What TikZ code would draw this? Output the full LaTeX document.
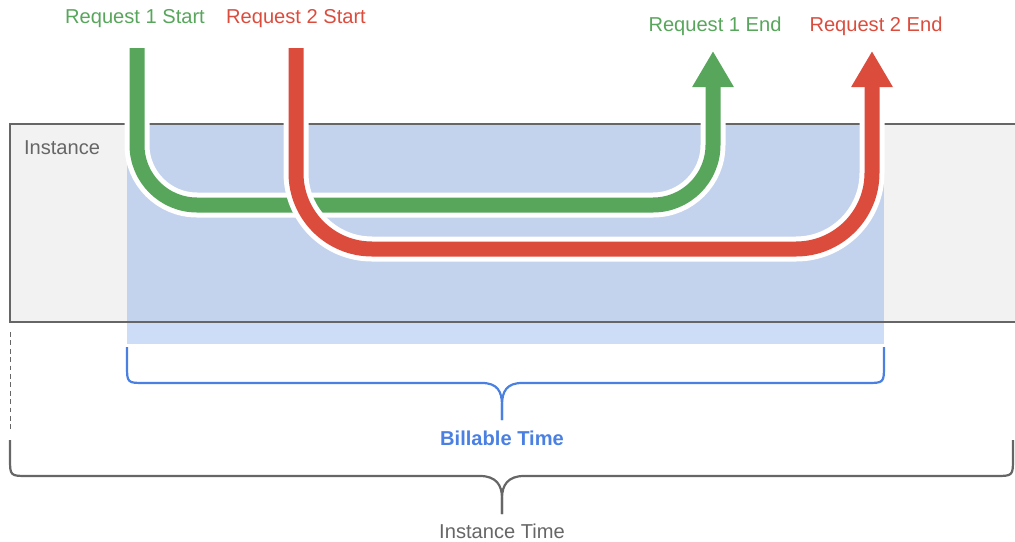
\documentclass[tikz,border=0pt]{standalone}
\usepackage{fontspec}
\setmainfont{Liberation Sans}
\usetikzlibrary{arrows.meta}
\definecolor{reqgreen}{HTML}{57A65B}
\definecolor{reqred}{HTML}{DC4C3D}
\definecolor{billblue}{HTML}{4A80E2}
\definecolor{instgray}{HTML}{666666}
\definecolor{instfill}{HTML}{F2F2F2}
\tikzset{
	reqtext/.style={font=\fontsize{14.3}{16}\selectfont},
	casing/.style={white,line width=6.25mm},
	request/.style={line width=3.75mm,-{Triangle[length=9mm,width=9.75mm]}},
	brace/.style={line width=0.55mm}
}
\begin{document}
\begin{tikzpicture}[x=0.25mm,y=-0.25mm]
				\useasboundingbox (0,0) rectangle (1015,541);

				\fill[instfill] (10,124) rectangle (1016,322);
				\fill[billblue,opacity=0.28] (127,124) rectangle (884,344);
				\draw[instgray,line width=0.5mm] (1016,124) -| (10,322) -- (1016,322);
				\draw[instgray,dashed,dash pattern=on 1.2mm off 0.9mm] (10,332) -- (10,430);
				\node[reqtext,instgray] (inst) at (62,148) {Instance};

				\coordinate (start1) at (137,48);
				\coordinate (start2) at (296,48);
				\coordinate (end1) at (713,51);
				\coordinate (end2) at (872,51);

				\draw[casing,rounded corners=15mm] (start1) |- (713,205) -- (713,90);
				\draw[request,reqgreen,rounded corners=15mm] (start1) |- (713,205) -- (end1);
				\draw[casing,rounded corners=19mm] (start2) |- (872,249) -- (872,90);
				\draw[request,reqred,rounded corners=19mm] (start2) |- (872,249) -- (end2);

				\node[reqtext,reqgreen] (s1) at (135,19) {Request 1 Start};
				\node[reqtext,reqred] (s2) at (296,19) {Request 2 Start};
				\node[reqtext,reqgreen] (e1) at (715,26) {Request 1 End};
				\node[reqtext,reqred] (e2) at (876,26) {Request 2 End};

				\coordinate (billtip) at (502,420);
				\draw[brace,billblue] (127,347) -- (127,365) .. controls (127,383) .. (145,383) -- (482,383) .. controls (497,383) and (502,391) .. (502,405) -- (billtip);
				\draw[brace,billblue] (884,347) -- (884,365) .. controls (884,383) .. (866,383) -- (522,383) .. controls (507,383) and (502,391) .. (502,405) -- (billtip);
				\node[reqtext,billblue,font=\fontsize{14.3}{16}\selectfont\bfseries] (bill) at (502,438) {Billable Time};

				\coordinate (insttip) at (502,514);
				\draw[brace,instgray] (10,440) -- (10,458) .. controls (10,476) .. (28,476) -- (480,476) .. controls (496,476) and (502,485) .. (502,498) -- (insttip);
				\draw[brace,instgray] (1013,440) -- (1013,458) .. controls (1013,476) .. (995,476) -- (524,476) .. controls (508,476) and (502,485) .. (502,498) -- (insttip);
				\node[reqtext,instgray] (insttime) at (502,531) {Instance Time};
\end{tikzpicture}
\end{document}
